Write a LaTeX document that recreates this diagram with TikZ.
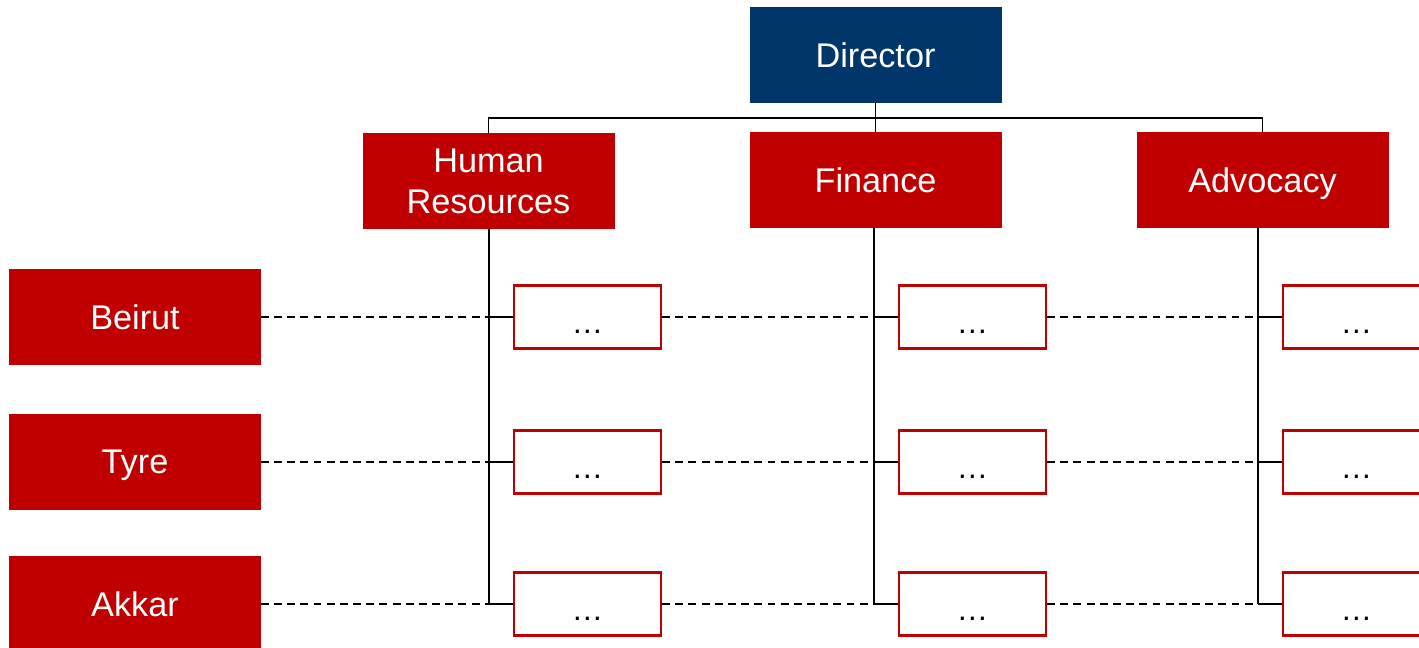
\documentclass[tikz,border=0pt]{standalone}
\usepackage{fontspec}
\setmainfont{Liberation Sans}
\usetikzlibrary{positioning}
\definecolor{orgred}{RGB}{192,0,0}
\definecolor{orgblue}{RGB}{0,54,105}

\tikzset{
  unitbox/.style={fill=orgred, draw=orgred, text=white, minimum width=5.02cm,
    minimum height=1.9cm, inner sep=0pt, align=center, text depth=0pt,
    font=\fontsize{19.5}{23.5}\selectfont},
  headbox/.style={unitbox, fill=orgblue, draw=orgblue},
  postbox/.style={draw=orgred, line width=1.2pt, fill=white, minimum width=2.94cm,
    minimum height=1.26cm, inner sep=0pt, font=\fontsize{18}{20}\selectfont},
  link/.style={line width=1.1pt},
  dotlink/.style={line width=0.9pt, dash pattern=on 4.5pt off 3pt},
}
\newcommand{\postdots}{\smash{\raisebox{-0.32cm}{…}}}

\begin{document}
\begin{tikzpicture}[x=0.02cm, y=-0.02cm]
  \useasboundingbox (0,0) rectangle (1419,647);
  \clip (0,0) rectangle (1419,647);
  % head and departments
  \node[headbox] (dir) at (875.5,55) {Director};
  \node[unitbox] (hr) at (488.5,181) {Human\\Resources};
  \node[unitbox] (fin) at (875.5,180) {Finance};
  \node[unitbox] (adv) at (1262.5,180) {Advocacy};
  \coordinate (bus) at (875.5,118);
  \draw[link] (dir.south) -- (bus);
  \foreach \d in {hr,fin,adv}
    \draw[link] (bus) -| (\d.north);
  % regional offices
  \foreach \city/\y [count=\r] in {Beirut/317, Tyre/462, Akkar/604}
    \node[unitbox] (city-\r) at (135,\y) {\city};
  % posts hanging off each department
  \foreach \d/\x in {hr/489, fin/874, adv/1258} {
    \foreach \y [count=\r] in {317,462,604} {
      \coordinate (\d-j\r) at (\x,\y);
      \node[postbox, right=0.48cm of \d-j\r] (\d-p\r) {\postdots};
      \draw[link] (\d-j\r) -- (\d-p\r.west);
    }
    \draw[link] (\d.south -| \d-j1) -- (\d-j3);
  }
  % dashed links along each row
  \foreach \r in {1,2,3} {
    \draw[dotlink] (city-\r.east) -- (hr-j\r);
    \draw[dotlink] (hr-p\r.east) -- (fin-j\r);
    \draw[dotlink] (fin-p\r.east) -- (adv-j\r);
  }
\end{tikzpicture}
\end{document}
